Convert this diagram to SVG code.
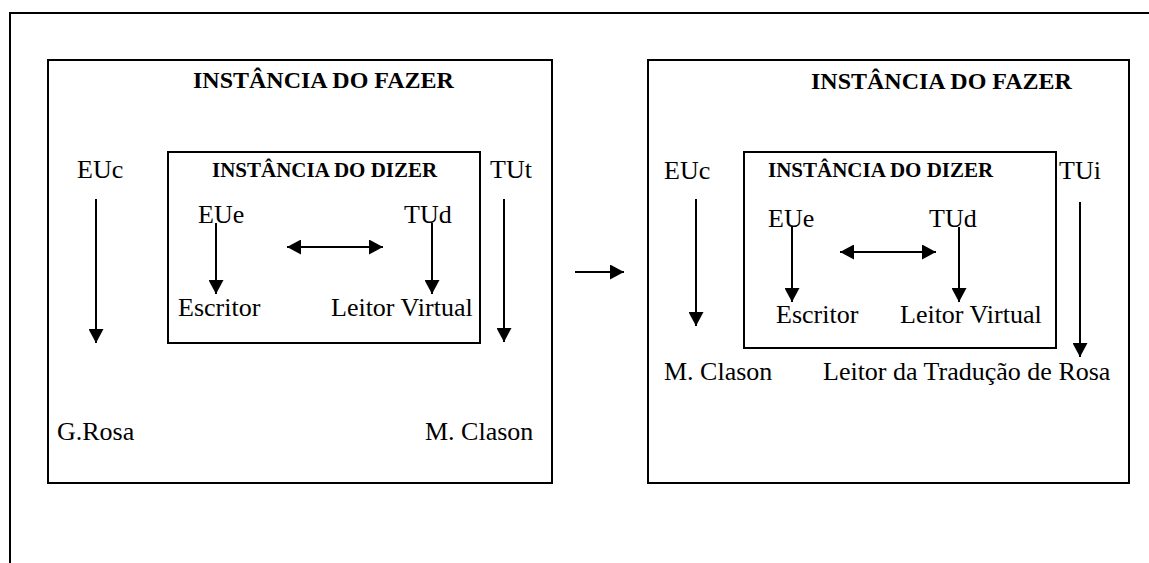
<svg xmlns="http://www.w3.org/2000/svg" width="1149" height="563" viewBox="0 0 1149 563">
<style>
.t{font-family:"Liberation Serif","Times New Roman",serif;font-size:26px;fill:#000}
.h1{font-family:"Liberation Serif","Times New Roman",serif;font-size:24px;font-weight:bold;fill:#000}
.h2{font-family:"Liberation Serif","Times New Roman",serif;font-size:21px;font-weight:bold;fill:#000}
.box{fill:none;stroke:#000;stroke-width:2}
.ln{stroke:#000;stroke-width:2;fill:none}
.ar{stroke:#000;stroke-width:2;fill:none;marker-end:url(#ah)}
.ar2{stroke:#000;stroke-width:2;fill:none;marker-end:url(#ah);marker-start:url(#ah)}
</style>
<defs>
<marker id="ah" viewBox="0 0 14 15" refX="14" refY="7.5" markerWidth="14" markerHeight="15" markerUnits="userSpaceOnUse" orient="auto-start-reverse">
<path d="M0,0 L14,7.5 L0,15 z" fill="#000"/>
</marker>
</defs>
<rect width="1149" height="563" fill="#fff"/>
<g id="frame">
<path class="ln" d="M10,563 V13 H1149" stroke-width="2.5"/>
</g>
<g id="fazer-left">
<rect class="box" x="48" y="60" width="504" height="423"/>
<text class="h1" x="193" y="88">INSTÂNCIA DO FAZER</text>
<text class="t" x="77" y="178">EUc</text>
<text class="t" x="490" y="178">TUt</text>
<text class="t" x="57" y="440">G.Rosa</text>
<text class="t" x="425" y="440">M. Clason</text>
</g>
<g id="dizer-left">
<rect class="box" x="168" y="152" width="312" height="191"/>
<text class="h2" x="212" y="177">INSTÂNCIA DO DIZER</text>
<text class="t" x="198" y="223">EUe</text>
<text class="t" x="404" y="223">TUd</text>
<text class="t" x="178" y="316">Escritor</text>
<text class="t" x="331" y="316">Leitor Virtual</text>
</g>
<g id="fazer-right">
<rect class="box" x="648" y="60" width="481" height="423"/>
<text class="h1" x="811" y="89">INSTÂNCIA DO FAZER</text>
<text class="t" x="664" y="179">EUc</text>
<text class="t" x="1059" y="179">TUi</text>
<text class="t" x="664" y="380">M. Clason</text>
<text class="t" x="823" y="380">Leitor da Tradução de Rosa</text>
</g>
<g id="dizer-right">
<rect class="box" x="744" y="152" width="312" height="196"/>
<text class="h2" x="768" y="177">INSTÂNCIA DO DIZER</text>
<text class="t" x="768" y="227">EUe</text>
<text class="t" x="929" y="227">TUd</text>
<text class="t" x="776" y="323">Escritor</text>
<text class="t" x="900" y="323">Leitor Virtual</text>
</g>
<g id="connectors">
<line class="ar" x1="96" y1="199" x2="96" y2="343"/>
<line class="ar" x1="504" y1="199" x2="504" y2="342"/>
<line class="ar" x1="216" y1="223" x2="216" y2="294"/>
<line class="ar" x1="432" y1="223" x2="432" y2="294"/>
<line class="ar2" x1="287" y1="247" x2="383" y2="247"/>
<line class="ar" x1="575" y1="272" x2="624" y2="272"/>
<line class="ar" x1="696" y1="199" x2="696" y2="326"/>
<line class="ar" x1="1080" y1="202" x2="1080" y2="357"/>
<line class="ar" x1="792" y1="227" x2="792" y2="302"/>
<line class="ar" x1="959" y1="227" x2="959" y2="302"/>
<line class="ar2" x1="840" y1="252" x2="936" y2="252"/>
</g>
</svg>
